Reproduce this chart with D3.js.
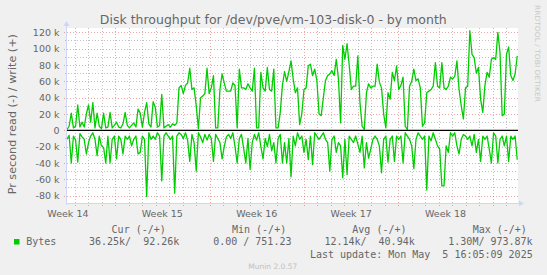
<!DOCTYPE html>
<html>
<head>
<meta charset="utf-8">
<script src="https://cdn.jsdelivr.net/npm/d3@7"></script>
<style>
  html, body { margin: 0; padding: 0; background: #f0f0f0; }
  svg { display: block; }
  text { white-space: pre; }
</style>
</head>
<body>
<div class="canvas"></div>
<script>
// data (kB/s, one sample every 230 minutes)
const writeK = [
  1, 5, 21, 3, 5, 31, 4, 10, 4, 20, 31, 10, 34, 3, 21, 5, 2, 21, 3, 4, 22, 3, 6, 10, 4, 3, 8, 22, 6, 3,
  6, 9, 4, 26, 21, 4, 22, 34, 8, 4, 35, 28, 4, 6, 44, 3, 5, 7, 4, 8, 6, 9, 52,
  55, 45, 55, 58, 76, 50, 52, 30, 2, 40, 42, 45, 76, 45, 52, 67, 3, 3, 50, 69, 58, 48, 48, 48, 58,
  55, 3, 75, 52, 52, 50, 57, 52, 48, 76, 3, 3, 71, 52, 48, 77, 50, 48, 75, 3, 3, 22, 55, 72, 60, 72, 85,
  63, 46, 52, 7, 20, 50, 52, 79, 81, 67, 75, 61, 20, 18, 40, 61, 67, 69, 73, 67, 87, 63, 9, 104, 87,
  106, 80, 50, 54, 54, 91, 34, 5, 1, 46, 57, 52, 54, 54, 81, 59, 52, 20, 3, 46, 38, 71, 61, 79, 50, 55, 65,
  5, 1, 54, 60, 75, 61, 63, 52, 5, 9, 46, 48, 50, 54, 83, 54, 52, 83, 52, 50, 54, 65, 63, 66, 85,
  50, 30, 14, 52, 54, 122, 93, 89, 70, 77, 38, 22, 55, 71, 65, 87, 89, 87, 120, 95, 18, 20, 93, 102, 67, 61, 69, 91
];
const readK = [
  11, 6, 40, 7, 12, 39, 4, 8, 11, 29, 15, 7, 3, 11, 31, 7, 19, 21, 40, 7, 40, 11, 7, 35, 7, 11, 29, 7, 11, 7,
  19, 11, 7, 29, 27, 7, 11, 81, 3, 11, 7, 11, 3, 7, 62, 7, 3, 7, 11, 7, 77, 7, 3,
  5, 10, 3, 12, 38, 5, 15, 50, 3, 8, 15, 5, 12, 5, 10, 38, 5, 10, 15, 35, 20, 8, 5, 10, 3,
  20, 40, 10, 5, 22, 40, 10, 48, 15, 5, 12, 3, 20, 35, 10, 20, 5, 25, 15, 40, 10, 5, 40, 15, 40, 10, 57,
  7, 19, 3, 11, 7, 27, 11, 36, 7, 42, 3, 7, 11, 7, 3, 11, 15, 50, 11, 7, 27, 15, 19, 58, 11,
  54, 7, 11, 15, 7, 17, 27, 7, 46, 15, 34, 23, 11, 7, 11, 19, 52, 11, 7, 39, 11, 7, 38, 7, 11, 7, 40,
  3, 7, 11, 19, 47, 11, 3, 7, 11, 7, 73, 7, 13, 3, 11, 19, 23, 68, 68, 19, 27, 3, 7, 3, 19,
  29, 11, 5, 7, 11, 7, 19, 5, 27, 11, 38, 7, 11, 7, 23, 40, 3, 7, 40, 11, 7, 19, 7, 38, 7, 11, 7, 36
];

const yTicks = [-80000, -60000, -40000, -20000, 0, 20000, 40000, 60000, 80000, 100000, 120000];
const weekLabels = ['Week 14', 'Week 15', 'Week 16', 'Week 17', 'Week 18'];

const legendHeaders = ['Cur (-/+)', 'Min (-/+)', 'Avg (-/+)', 'Max (-/+)'];
const legendValues = ['36.25k/  92.26k', '0.00 / 751.23', '12.14k/  40.94k', '1.30M/ 973.87k'];
const seriesName = 'Bytes';
const lastUpdate = 'Last update: Mon May  5 16:05:09 2025';

const start = new Date(Date.UTC(2025, 3, 2, 9, 30));
const end = new Date(Date.UTC(2025, 4, 5, 20, 50));
const firstSample = new Date(Date.UTC(2025, 3, 2, 10, 20));
const sampleMinutes = 230;

const width = 547;
const height = 275;
const plot = { left: 66.5, right: 518, top: 28, bottom: 203 };

const green = '#00cc00';
const axisColor = '#cfd6f8';
const fontColor = '#666666';

const svg = d3
  .select('.canvas')
  .append('svg')
  .attr('width', width)
  .attr('height', height);

svg.append('rect')
  .attr('width', width)
  .attr('height', height)
  .attr('fill', '#f0f0f0');

// scales
const x = d3.scaleUtc().domain([start, end]).range([plot.left, plot.right]);
const y = d3.scaleLinear().domain([-89000, 125300]).range([plot.bottom, plot.top]);

svg.append('rect')
  .attr('x', plot.left)
  .attr('y', plot.top)
  .attr('width', plot.right - plot.left)
  .attr('height', plot.bottom - plot.top)
  .attr('fill', '#ffffff');

const grid = svg.append('g').attr('shape-rendering', 'crispEdges');

// horizontal grid, minor every 10k, major on the labelled ticks
const minorY = d3.range(yTicks[0], yTicks[yTicks.length - 1] + 1, 10000)
  .filter(v => !yTicks.includes(v));

grid.selectAll('line.hminor')
  .data(minorY)
  .enter()
  .append('line')
  .attr('x1', plot.left - 2)
  .attr('x2', plot.right)
  .attr('y1', d => Math.round(y(d)) + 0.5)
  .attr('y2', d => Math.round(y(d)) + 0.5)
  .attr('stroke', 'rgba(143,143,143,0.55)')
  .attr('stroke-dasharray', '1,2');

grid.selectAll('line.hmajor')
  .data(yTicks)
  .enter()
  .append('line')
  .attr('x1', plot.left - 3)
  .attr('x2', plot.right)
  .attr('y1', d => Math.round(y(d)) + 0.5)
  .attr('y2', d => Math.round(y(d)) + 0.5)
  .attr('stroke', 'rgba(222,79,79,0.5)')
  .attr('stroke-dasharray', '1,2');

// vertical grid, days and week starts
const weekStarts = d3.utcSunday.range(d3.utcSunday.floor(start), end);
const days = d3.utcDay.range(start, end)
  .filter(d => d.getUTCDay() !== 0);

grid.selectAll('line.vminor')
  .data(days)
  .enter()
  .append('line')
  .attr('x1', d => Math.round(x(d)) + 0.5)
  .attr('x2', d => Math.round(x(d)) + 0.5)
  .attr('y1', plot.top)
  .attr('y2', plot.bottom + 3)
  .attr('stroke', 'rgba(143,143,143,0.55)')
  .attr('stroke-dasharray', '1,2');

grid.selectAll('line.vmajor')
  .data(weekStarts.filter(d => d >= start))
  .enter()
  .append('line')
  .attr('x1', d => Math.round(x(d)) + 0.5)
  .attr('x2', d => Math.round(x(d)) + 0.5)
  .attr('y1', plot.top)
  .attr('y2', plot.bottom + 4)
  .attr('stroke', 'rgba(222,79,79,0.5)')
  .attr('stroke-dasharray', '1,2');

// series
const sampleTime = i => d3.utcMinute.offset(firstSample, i * sampleMinutes);

const line = d3
  .line()
  .x((d, i) => x(sampleTime(i)))
  .y(d => y(d));

svg.append('path')
  .datum(readK.map(v => -v * 1000))
  .attr('fill', 'none')
  .attr('stroke', green)
  .attr('stroke-width', 1.3)
  .attr('stroke-linejoin', 'round')
  .attr('d', line);

svg.append('path')
  .datum(writeK.map(v => v * 1000))
  .attr('fill', 'none')
  .attr('stroke', green)
  .attr('stroke-width', 1.3)
  .attr('stroke-linejoin', 'round')
  .attr('d', line);

// zero line
svg.append('line')
  .attr('x1', plot.left)
  .attr('x2', plot.right)
  .attr('y1', y(0))
  .attr('y2', y(0))
  .attr('stroke', '#000')
  .attr('stroke-width', 1.2);

// axes with arrows
svg.append('line')
  .attr('x1', plot.left)
  .attr('x2', plot.right + 2)
  .attr('y1', plot.bottom + 0.5)
  .attr('y2', plot.bottom + 0.5)
  .attr('stroke', axisColor);

svg.append('line')
  .attr('x1', plot.left)
  .attr('x2', plot.left)
  .attr('y1', plot.bottom + 2)
  .attr('y2', plot.top - 3)
  .attr('stroke', axisColor);

svg.append('path')
  .attr('d', `M${plot.right + 1},${plot.bottom - 2.5} L${plot.right + 6},${plot.bottom + 0.5} L${plot.right + 1},${plot.bottom + 3.5} Z`)
  .attr('fill', axisColor);

svg.append('path')
  .attr('d', `M${plot.left - 3},${plot.top - 2} L${plot.left},${plot.top - 7} L${plot.left + 3},${plot.top - 2} Z`)
  .attr('fill', axisColor);

// y labels
const yAxis = d3
  .axisLeft(y)
  .tickValues(yTicks)
  .tickSize(0)
  .tickPadding(7)
  .tickFormat(d => (d === 0 ? '0' : d / 1000 + ' k'));

const yAxisGroup = svg.append('g')
  .attr('transform', `translate(${plot.left}, 0)`)
  .call(yAxis);

yAxisGroup.select('.domain').remove();
yAxisGroup.selectAll('text')
  .attr('font-family', 'DejaVu Sans')
  .attr('font-size', 9.5)
  .attr('fill', fontColor);

// week labels, centred mid-week
svg.selectAll('text.week')
  .data(weekLabels)
  .enter()
  .append('text')
  .attr('class', 'week')
  .attr('x', (d, i) => x(d3.utcHour.offset(weekStarts[i], 84)))
  .attr('y', 216.8)
  .attr('text-anchor', 'middle')
  .attr('font-family', 'DejaVu Sans')
  .attr('font-size', 9.5)
  .attr('fill', fontColor)
  .text(d => d);

// title and vertical label
svg.append('text')
  .attr('x', 273.3)
  .attr('y', 23.8)
  .attr('text-anchor', 'middle')
  .attr('font-family', 'DejaVu Sans')
  .attr('font-size', 12.5)
  .attr('fill', fontColor)
  .text('Disk throughput for /dev/pve/vm-103-disk-0 - by month');

svg.append('text')
  .attr('transform', 'translate(15.5, 114.2) rotate(-90)')
  .attr('text-anchor', 'middle')
  .attr('font-family', 'DejaVu Sans')
  .attr('font-size', 11.2)
  .attr('fill', fontColor)
  .text('Pr second read (-) / write (+)');

svg.append('text')
  .attr('transform', 'translate(535, 5) rotate(90)')
  .attr('font-family', 'DejaVu Sans')
  .attr('font-size', 7)
  .attr('textLength', 97)
  .attr('lengthAdjust', 'spacingAndGlyphs')
  .attr('fill', '#c8c8c8')
  .text('RRDTOOL / TOBI OETIKER');

// legend
const legend = svg.append('g')
  .attr('font-family', 'DejaVu Sans Mono')
  .attr('font-size', 10)
  .attr('fill', fontColor);

const columnX = [111.6, 232, 352.3, 472.7];
const valueX = [89, 213.2, 324.4, 448.3];

legend.selectAll('text.head')
  .data(legendHeaders)
  .enter()
  .append('text')
  .attr('x', (d, i) => columnX[i])
  .attr('y', 232.5)
  .text(d => d);

legend.append('rect')
  .attr('x', 14)
  .attr('y', 239)
  .attr('width', 5.5)
  .attr('height', 5.5)
  .attr('fill', green);

legend.append('text')
  .attr('x', 26.2)
  .attr('y', 245)
  .text(seriesName);

legend.selectAll('text.val')
  .data(legendValues)
  .enter()
  .append('text')
  .attr('x', (d, i) => valueX[i])
  .attr('y', 245)
  .text(d => d);

legend.append('text')
  .attr('x', 532.7)
  .attr('y', 257.5)
  .attr('text-anchor', 'end')
  .text(lastUpdate);

svg.append('text')
  .attr('x', 272.8)
  .attr('y', 269)
  .attr('text-anchor', 'middle')
  .attr('font-family', 'DejaVu Sans')
  .attr('font-size', 7.5)
  .attr('fill', '#c0c0c0')
  .text('Munin 2.0.57');
</script>
</body>
</html>
